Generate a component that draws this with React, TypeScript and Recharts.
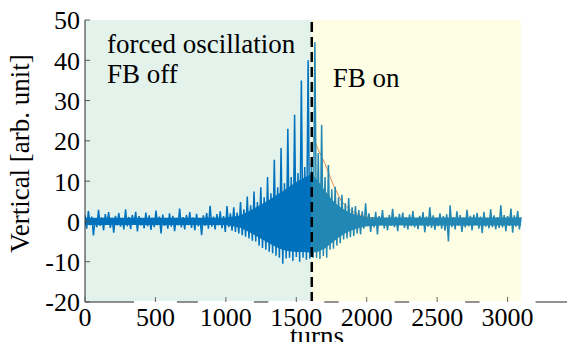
import React from 'react'
import {
  ComposedChart,
  Line,
  Area,
  XAxis,
  YAxis,
  ReferenceArea,
  ReferenceLine,
  Label,
} from 'recharts'

const FONT = 'Liberation Serif, DejaVu Serif, serif'
const textStyle = { fontFamily: FONT }

// one stored sample every 12 turns
const STEP = 12
// sample index where the feedback gets switched on (shared by both arrays)
const SPLIT = 134

const xTicks = [0, 500, 1000, 1500, 2000, 2500, 3000]
const yTicks = [-20, -10, 0, 10, 20, 30, 40, 50]

const fbOffEnd = 1610
const fbOnEnd = 3095

const offColor = '#0072bd'
const onColor = '#2387b4'

// forced oscillation, FB off (samples 0..134)
const feedbackOff = [
  1.5, -1.8, 2.6, -0.9, 1.2, -3.5, 0.6, -1.4, 2.9, -1.1,
  1.0, -2.2, 1.8, -0.7, 2.3, -1.6, 0.9, -2.8, 1.4, -1.0,
  2.1, -1.3, 0.8, -2.0, 3.0, -1.2, 1.1, -1.9, 1.6, -0.8,
  2.4, -2.5, 1.3, -1.0, 0.7, -1.7, 2.2, -1.2, 1.5, -2.1,
  0.9, -1.4, 2.7, -0.9, 1.2, -3.0, 1.7, -1.1, 0.8, -1.8,
  2.0, -1.3, 1.4, -2.4, 0.9, -1.0, 3.2, -1.5, 1.1, -2.0,
  1.6, -0.9, 2.3, -1.6, 1.0, -2.2, 1.9, -1.2, 0.7, -3.4,
  1.5, -1.1, 2.1, -1.8, 3.9, -1.3, 1.2, -2.0, 1.8, -1.0,
  2.5, -1.7, 1.3, -2.6, 3.8, -1.4, 2.0, -2.3,
  3.5, -2.6, 2.2, -3.0,
  4.8, -3.4, 3.0, -3.8,
  6.2, -4.2, 4.0, -4.8,
  7.4, -5.0, 4.8, -6.0,
  8.5, -6.6, 6.0, -7.0,
  11.0, -7.5, 7.0, -7.9,
  15.3, -8.5, 8.5, -9.0,
  18.2, -10.5, 9.5, -9.2,
  23.0, -9.0, 11.0, -9.8,
  26.5, -8.8, 12.0, -10.0,
  35.0, -9.0, 13.5, -9.5,
  40.0, -9.2, 14.5,
]

// FB on (samples 134..258)
const feedbackOn = [
  14.5, -9.0,
  44.5, -9.0, 17.0, -9.3,
  24.0, -8.6, 11.0, -9.0,
  14.0, -7.0, 8.0, -6.8,
  8.6, -6.0, 6.0, -5.4,
  6.6, -4.5, 4.5, -4.2,
  5.8, -3.9, 3.5, -3.6,
  3.8, -3.0, 2.8, -3.2,
  2.5, -1.8, 4.5, -1.2, 2.0, -2.6, 1.1, -1.5, 2.4, -3.2,
  1.3, -1.0, 2.8, -1.7, 0.9, -2.2, 1.6, -1.1, 3.1, -1.4,
  1.2, -2.4, 1.9, -0.8, 2.2, -1.6, 1.0, -2.0, 1.7, -1.2,
  2.6, -1.5, 0.8, -1.9, 1.4, -1.0, 2.3, -2.7, 1.2, -1.3,
  3.5, -1.6, 1.5, -2.1, 0.9, -1.2, 2.0, -1.8, 1.3, -2.3,
  1.8, -5.0, 4.0, -1.4, 1.1, -2.0, 2.5, -1.1, 1.6, -2.6,
  1.0, -1.5, 2.9, -1.2, 1.4, -2.2, 1.7, -0.9, 2.1, -1.8,
  1.2, -2.9, 2.4, -1.3, 0.9, -1.7, 3.0, -1.4, 1.5, -2.0,
  1.1, -1.6, 4.0, -1.5, 1.6, -2.4, 1.3, -1.1, 3.2, -2.8,
  1.5, -1.3, 2.6, -2.0, 1.0,
]

// dense core of the trace (where the samples overlap to a solid band)
const coreOffTurns = [0, 1000, 1100, 1150, 1200, 1250, 1300, 1350, 1400, 1450, 1500, 1550, 1610]
const coreOffHigh = [0.9, 0.9, 1.5, 2.3, 3.2, 4.2, 5.2, 6.3, 7.4, 8.6, 9.8, 10.8, 11.8]
const coreOffLow = [-0.9, -0.9, -1.5, -2.4, -3.3, -4.3, -5.3, -6.2, -7.0, -7.4, -7.6, -7.6, -7.8]

const coreOnTurns = [1610, 1650, 1700, 1750, 1800, 1850, 1900, 1950, 2000, 2100, 3096]
const coreOnHigh = [11.8, 10.2, 7.8, 5.5, 3.8, 2.7, 1.9, 1.4, 1.1, 1.0, 1.0]
const coreOnLow = [-7.8, -7.6, -6.8, -5.4, -4.0, -2.9, -2.1, -1.6, -1.2, -1.0, -1.0]

// damping fit after FB on
const fitTurns = [1611, 1660, 1703, 1762, 1822, 1881, 1950, 2050]
const fitValues = [21.6, 17.5, 14.4, 9.1, 4.9, 2.9, 1.6, 0.6]

type Row = { t: number; off?: number; on?: number }

const rows: Row[] = []
for (let i = 0; i < SPLIT + feedbackOn.length; i++) {
  rows.push({
    t: i * STEP,
    off: i <= SPLIT ? feedbackOff[i] : undefined,
    on: i >= SPLIT ? feedbackOn[i - SPLIT] : undefined,
  })
}

const coreOffRows = coreOffTurns.map((t, i) => ({ t, band: [coreOffLow[i], coreOffHigh[i]] }))
const coreOnRows = coreOnTurns.map((t, i) => ({ t, band: [coreOnLow[i], coreOnHigh[i]] }))
const fitRows = fitTurns.map((t, i) => ({ t, fit: fitValues[i] }))

const BottomTick = ({ x, y, payload }: any) => {
  const label = String(payload.value)
  const w = label.length * 13 + 4
  return (
    <g>
      {payload.value > 0 && (
        <rect x={x - w / 2} y={y - 1} width={w} height={26} fill="#fff" />
      )}
      <line x1={x} y1={y} x2={x} y2={y - 5} stroke="#666" />
      <text x={x} y={y + 24} textAnchor="middle" style={textStyle} fontSize={26} fill="#000">
        {label}
      </text>
    </g>
  )
}

const TopTick = ({ x, y }: any) => (
  <line x1={x} y1={y} x2={x} y2={y + 5} stroke="#777" />
)

const LeftTick = ({ x, y, payload }: any) => (
  <g>
    <line x1={x} y1={y} x2={x + 5} y2={y} stroke="#555" />
    <text x={x - 5} y={y} dy="0.36em" textAnchor="end" style={textStyle} fontSize={26} fill="#000">
      {payload.value}
    </text>
  </g>
)

const RightTick = ({ x, y }: any) => (
  <line x1={x} y1={y} x2={x - 6} y2={y} stroke="#333" />
)

const annotation = (lines: string[], dx: number, firstBaseline: number, gap: number) =>
  ({ viewBox }: any) => (
    <g>
      {lines.map((s, i) => (
        <text
          key={s}
          x={viewBox.x + dx}
          y={viewBox.y + firstBaseline + i * gap}
          style={textStyle}
          fontSize={27}
          fill="#000"
        >
          {s}
        </text>
      ))}
    </g>
  )

export default function App() {
  return (
    <div
      style={{
        margin: -8,
        width: 575,
        height: 350,
        overflow: 'hidden',
        position: 'relative',
        background: '#fff',
        fontFamily: FONT,
      }}
    >
      <ComposedChart
        width={578}
        height={350}
        data={rows}
        margin={{ top: 20, right: 0, bottom: 0, left: 0 }}
        style={{ fontFamily: FONT }}
      >
        <XAxis
          type="number"
          dataKey="t"
          domain={[0, 3500]}
          ticks={xTicks}
          interval={0}
          allowDataOverflow
          height={48}
          tickSize={0}
          tickMargin={0}
          tick={<BottomTick />}
          axisLine={{ stroke: '#262626' }}
        >
          <Label
            content={() => (
              <text x={317} y={345} textAnchor="middle" style={textStyle} fontSize={27} fill="#000">
                turns
              </text>
            )}
          />
        </XAxis>
        <XAxis
          xAxisId="top"
          orientation="top"
          type="number"
          dataKey="t"
          domain={[0, 3500]}
          ticks={xTicks}
          interval={0}
          allowDataOverflow
          height={0}
          tickSize={0}
          tickMargin={0}
          tick={<TopTick />}
          axisLine={{ stroke: '#262626' }}
        />
        <YAxis
          type="number"
          domain={[-20, 50]}
          ticks={yTicks}
          interval={0}
          allowDataOverflow
          width={85}
          tickSize={0}
          tickMargin={0}
          tick={<LeftTick />}
          axisLine={{ stroke: '#262626' }}
        >
          <Label
            content={() => (
              <text
                transform="translate(29, 153.5) rotate(-90)"
                textAnchor="middle"
                style={textStyle}
                fontSize={27}
                fill="#000"
              >
                Vertical [arb. unit]
              </text>
            )}
          />
        </YAxis>
        <YAxis
          yAxisId="right"
          orientation="right"
          type="number"
          domain={[-20, 50]}
          ticks={yTicks}
          interval={0}
          allowDataOverflow
          width={0}
          tickSize={0}
          tickMargin={0}
          tick={<RightTick />}
          axisLine={{ stroke: '#262626' }}
        />

        <ReferenceArea
          x1={0}
          x2={fbOffEnd}
          fill="#e3f2eb"
          fillOpacity={1}
          stroke="none"
          label={annotation(['forced oscillation', 'FB off'], 22, 33, 30)}
        />
        <ReferenceArea
          x1={fbOffEnd}
          x2={fbOnEnd}
          fill="#fefee5"
          fillOpacity={1}
          stroke="none"
          label={annotation(['FB on'], 21, 67, 30)}
        />

        <Line
          data={fitRows}
          dataKey="fit"
          stroke="#e0874c"
          strokeWidth={1}
          dot={false}
          isAnimationActive={false}
        />
        <Area
          data={coreOffRows}
          dataKey="band"
          type="linear"
          stroke="none"
          fill={offColor}
          fillOpacity={1}
          isAnimationActive={false}
        />
        <Area
          data={coreOnRows}
          dataKey="band"
          type="linear"
          stroke="none"
          fill={onColor}
          fillOpacity={1}
          isAnimationActive={false}
        />
        <Line
          dataKey="off"
          stroke={offColor}
          strokeWidth={1.5}
          dot={false}
          isAnimationActive={false}
        />
        <Line
          dataKey="on"
          stroke={onColor}
          strokeWidth={1.5}
          dot={false}
          isAnimationActive={false}
        />

        <ReferenceLine
          x={fbOffEnd}
          stroke="#000"
          strokeWidth={2.5}
          strokeDasharray="10 5"
        />
      </ComposedChart>
    </div>
  )
}
